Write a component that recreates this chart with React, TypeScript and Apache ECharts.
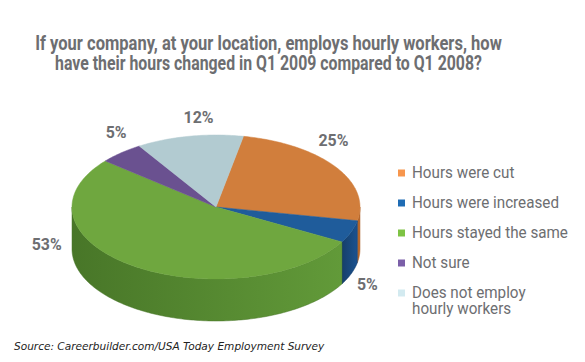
import React, { useEffect, useRef } from "react";
import * as echarts from "echarts";

// ---- data ----
const categories = [
  "Hours were cut",
  "Hours were increased",
  "Hours stayed the same",
  "Not sure",
  "Does not employ hourly workers",
];
const legendLabels = [
  "Hours were cut",
  "Hours were increased",
  "Hours stayed the same",
  "Not sure",
  "Does not employ\nhourly workers",
];
const values = [25, 5, 53, 5, 12];
const titleLines = [
  "If your company, at your location, employs hourly workers, how",
  "have their hours changed in Q1 2009 compared to Q1 2008?",
];
const sourceText = "Source: Careerbuilder.com/USA Today Employment Survey";

// ---- styles / layout ----
const topColors = ["#d17e3c", "#1f5c9b", "#6fa73f", "#6a5190", "#b2cbd1"];
const sideDark = ["#a85f27", "#163f6a", "#487628", "#4d3a69", "#879fa4"];
const sideLight = ["#c06d2f", "#1b5290", "#629a39", "#5c4680", "#9cb5ba"];
const legendColors = ["#f7964d", "#1f6cb4", "#7ec344", "#7b5fa8", "#d3eaf0"];
const labelOffsets = [
  [-2, -26],
  [16, 53],
  [-88, -22],
  [-5, -20],
  [9, -19],
];
const titleWidths = [467, 427];
const CX = 216;
const CY = 207;
const RX = 144;
const RY = 72;
const DEPTH = 42;
const START = -79; // degrees, screen clockwise from +x
const TEXT_GRAY = "#6d6e71";
const TITLE_FONT = "bold 20px Roboto, 'Liberation Sans', sans-serif";
const LEGEND_FONT = "16px Roboto, 'Liberation Sans', sans-serif";
const LABEL_FONT = "bold 16px Roboto, 'Liberation Sans', sans-serif";
const SOURCE_FONT = "italic 11px 'DejaVu Sans', Verdana, sans-serif";

const total = values.reduce((a, b) => a + b, 0);
const cum: number[] = [];
values.reduce((acc, v, i) => {
  cum[i] = acc;
  return acc + v;
}, 0);

function pt(t: number, dy = 0): number[] {
  const r = (t * Math.PI) / 180;
  return [CX + RX * Math.cos(r), CY + RY * Math.sin(r) + dy];
}

function arc(a: number, b: number, dy = 0): number[][] {
  const pts: number[][] = [];
  const n = Math.max(2, Math.ceil(Math.abs(b - a)));
  for (let k = 0; k <= n; k++) pts.push(pt(a + ((b - a) * k) / n, dy));
  return pts;
}

function measure(font: string, text: string): number {
  const ctx = document.createElement("canvas").getContext("2d");
  if (!ctx) return 1;
  ctx.font = font;
  return ctx.measureText(text).width || 1;
}

export default function App() {
  const ref = useRef<HTMLDivElement>(null);
  useEffect(() => {
    if (!ref.current) return;
    const chart = echarts.init(ref.current, undefined, { renderer: "svg" });

    const legendScale = 147 / measure(LEGEND_FONT, "Hours were increased");
    const labelScale = 30 / measure(LABEL_FONT, "25%");
    const sourceScale = 311 / measure(SOURCE_FONT, sourceText);

    const graphics: any[] = [];
    titleLines.forEach((line, i) => {
      graphics.push({
        type: "text",
        x: 268.5,
        y: 43 + i * 19.5,
        scaleX: titleWidths[i] / measure(TITLE_FONT, line),
        style: {
          text: line,
          x: 0,
          y: 0,
          fill: TEXT_GRAY,
          font: TITLE_FONT,
          align: "center",
          verticalAlign: "middle",
        },
      });
    });
    const legendY = [173, 203, 233, 263, 293];
    legendLabels.forEach((lab, i) => {
      graphics.push({
        type: "rect",
        shape: { x: 398, y: legendY[i] - 3.5, width: 7, height: 7 },
        style: { fill: legendColors[i] },
      });
      graphics.push({
        type: "text",
        x: 412,
        y: legendY[i] - 8,
        scaleX: legendScale,
        style: {
          text: lab,
          x: 0,
          y: 0,
          fill: TEXT_GRAY,
          font: LEGEND_FONT,
          lineHeight: 16,
          align: "left",
          verticalAlign: "top",
        },
      });
    });
    graphics.push({
      type: "text",
      x: 14,
      y: 346,
      scaleX: sourceScale,
      style: {
        text: sourceText,
        x: 0,
        y: 0,
        fill: "#222",
        font: SOURCE_FONT,
        align: "left",
        verticalAlign: "middle",
      },
    });

    chart.setOption({
      animation: false,
      backgroundColor: "#ffffff",
      graphic: graphics,
      series: [
        {
          type: "custom",
          coordinateSystem: "none",
          data: values.map((v, i) => ({ name: categories[i], value: v })),
          renderItem: (params: any, api: any) => {
            const i = params.dataIndex;
            const v = api.value(0);
            const a0 = START + (cum[i] / total) * 360;
            const a1 = a0 + (v / total) * 360;
            const children: any[] = [];
            const lo = Math.max(a0, 0);
            const hi = Math.min(a1, 180);
            if (lo < hi) {
              const pts = arc(lo, hi).concat(arc(hi, lo, DEPTH));
              children.push({
                type: "polygon",
                z2: 1,
                shape: { points: pts },
                style: {
                  fill: new echarts.graphic.LinearGradient(1, 0, 0, 0, [
                    { offset: 0, color: sideLight[i] },
                    { offset: 1, color: sideDark[i] },
                  ]),
                  stroke: sideDark[i],
                  lineWidth: 0.5,
                },
              });
            }
            children.push({
              type: "polygon",
              z2: 10,
              shape: { points: [[CX, CY]].concat(arc(a0, a1)) },
              style: { fill: topColors[i], stroke: topColors[i], lineWidth: 0.5 },
            });
            const mid = (a0 + a1) / 2;
            const p = pt(mid);
            children.push({
              type: "text",
              z2: 20,
              x: p[0] + labelOffsets[i][0],
              y: p[1] + labelOffsets[i][1],
              scaleX: labelScale,
              style: {
                text: Math.round(v) + "%",
                x: 0,
                y: 0,
                fill: TEXT_GRAY,
                font: LABEL_FONT,
                align: "center",
                verticalAlign: "middle",
              },
            });
            return { type: "group", children };
          },
        },
      ],
    });
    return () => chart.dispose();
  }, []);
  return (
    <div
      ref={ref}
      style={{ position: "absolute", left: 0, top: 0, width: 585, height: 362 }}
    />
  );
}
